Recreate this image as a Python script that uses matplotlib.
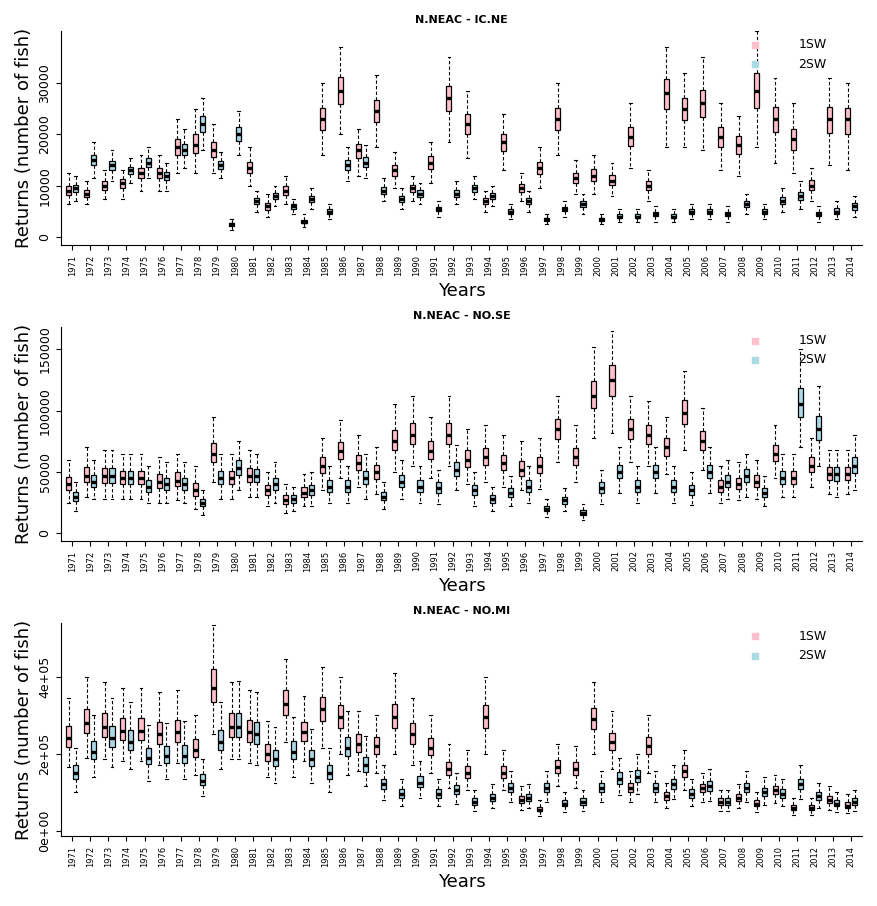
import matplotlib.pyplot as plt
import numpy as np

YEARS = list(range(1971, 2015))

# ---- IC.NE ----
icne_1sw_med = [9000, 8500, 10000, 10500, 12500, 12500, 17500, 18000, 17000, 2500, 13500, 6000, 9000, 3000,
                23000, 28500, 17000, 24500, 13000, 9500, 14500, 27000, 22000, 7000, 18500, 9500, 13500, 23000,
                11500, 12000, 11000, 19500, 10000, 28000, 25000, 26000, 19500, 18000, 28500, 23000, 19000, 10000,
                23000, 23000]
icne_1sw_hi = [12500, 11000, 13000, 13000, 16000, 16000, 23000, 25000, 22000, 3500, 17500, 8500, 12000, 4500,
               30000, 37000, 21000, 31500, 16500, 12000, 18500, 35000, 28500, 9000, 24000, 12500, 17500, 30000,
               15000, 16000, 14500, 26000, 13000, 37000, 32000, 35000, 26000, 23500, 40000, 31000, 26000, 13500,
               31000, 30000]
icne_1sw_lo = [6500, 6500, 7500, 7500, 9000, 9000, 12500, 12500, 12500, 1500, 10000, 4000, 6500, 2000,
               16000, 20000, 12000, 17500, 9500, 7000, 10500, 18500, 15500, 5000, 13000, 7000, 9500, 16000,
               8500, 8500, 8000, 13500, 7000, 17500, 17500, 17000, 13000, 12000, 17500, 14500, 12500, 7000,
               14000, 13000]
icne_2sw_med = [9500, 15000, 14000, 13000, 14500, 12000, 17000, 22000, 14000, 20000, 7000, 8000, 6000, 7500,
                5000, 14000, 14500, 9000, 7500, 8500, 5500, 8500, 9500, 8000, 5000, 7000, 3500, 5500,
                6500, 3500, 4000, 4000, 4500, 4000, 5000, 5000, 4500, 6500, 5000, 7000, 8000, 4500,
                5000, 6000]
icne_2sw_hi = [12000, 18500, 17000, 15500, 17500, 14500, 21000, 27000, 16500, 24500, 9000, 10000, 7500, 9500,
               6500, 17500, 18000, 11500, 9500, 10500, 7000, 11000, 12000, 10000, 6500, 9000, 4500, 7000,
               8500, 4500, 5500, 5500, 6000, 5500, 6500, 6500, 6000, 8500, 6500, 9500, 11000, 6000,
               7000, 8000]
icne_2sw_lo = [7000, 11500, 11000, 10500, 11500, 9000, 13500, 17000, 11500, 16000, 5000, 6000, 4500, 5500,
               3500, 11000, 11500, 7000, 5500, 6500, 4000, 6500, 7500, 6000, 3500, 5000, 2500, 4000,
               4500, 2500, 3000, 3000, 3000, 3000, 3500, 3500, 3000, 4500, 3500, 5000, 5500, 3000,
               3500, 4000]

# ---- NO.SE ----
nose_1sw_med = [40000, 47000, 47000, 45000, 45000, 42000, 43000, 35000, 65000, 45000, 47000, 35000, 27000, 33000,
                55000, 67000, 57000, 50000, 75000, 80000, 67000, 80000, 60000, 62000, 57000, 52000, 55000, 85000,
                62000, 112000, 125000, 85000, 80000, 70000, 98000, 75000, 38000, 40000, 42000, 65000, 45000, 55000,
                48000, 48000]
nose_1sw_hi = [60000, 70000, 68000, 65000, 65000, 62000, 65000, 55000, 95000, 65000, 68000, 50000, 40000, 48000,
               78000, 92000, 80000, 70000, 105000, 112000, 95000, 112000, 85000, 88000, 80000, 75000, 78000, 112000,
               88000, 152000, 165000, 112000, 108000, 95000, 132000, 102000, 55000, 58000, 60000, 88000, 65000, 78000,
               68000, 68000]
nose_1sw_lo = [25000, 30000, 28000, 28000, 28000, 25000, 27000, 20000, 42000, 28000, 30000, 22000, 17000, 22000,
               35000, 45000, 38000, 32000, 50000, 55000, 45000, 55000, 40000, 42000, 38000, 35000, 36000, 58000,
               42000, 78000, 82000, 58000, 55000, 48000, 68000, 52000, 25000, 27000, 28000, 45000, 30000, 38000,
               32000, 32000]
nose_2sw_med = [30000, 42000, 47000, 45000, 38000, 40000, 40000, 25000, 45000, 53000, 47000, 40000, 28000, 35000,
                38000, 38000, 45000, 30000, 42000, 38000, 37000, 52000, 35000, 28000, 33000, 38000, 20000, 27000,
                17000, 37000, 50000, 38000, 50000, 38000, 35000, 50000, 42000, 47000, 33000, 45000, 105000, 85000,
                48000, 55000]
nose_2sw_hi = [42000, 60000, 68000, 65000, 55000, 58000, 58000, 35000, 65000, 75000, 65000, 58000, 38000, 50000,
               55000, 55000, 65000, 42000, 60000, 55000, 52000, 72000, 50000, 38000, 47000, 55000, 28000, 37000,
               24000, 52000, 70000, 55000, 70000, 55000, 50000, 70000, 60000, 65000, 47000, 65000, 150000, 120000,
               68000, 80000]
nose_2sw_lo = [18000, 28000, 28000, 28000, 25000, 25000, 25000, 15000, 28000, 35000, 30000, 25000, 18000, 22000,
               25000, 25000, 28000, 20000, 28000, 25000, 24000, 35000, 22000, 18000, 22000, 25000, 13000, 18000,
               11000, 24000, 33000, 25000, 33000, 25000, 23000, 33000, 28000, 30000, 22000, 30000, 70000, 55000,
               30000, 35000]

# ---- NO.MI ----
nomi_1sw_med = [240000, 280000, 270000, 260000, 260000, 250000, 255000, 210000, 370000, 270000, 255000, 200000,
                330000, 255000, 315000, 295000, 225000, 220000, 295000, 250000, 215000, 160000, 150000, 295000,
                150000, 80000, 55000, 165000, 160000, 290000, 230000, 110000, 220000, 90000, 155000, 110000,
                75000, 85000, 70000, 105000, 60000, 60000, 80000, 65000]
nomi_1sw_hi = [345000, 400000, 385000, 370000, 370000, 360000, 365000, 300000, 535000, 385000, 365000, 285000,
               445000, 350000, 425000, 400000, 310000, 300000, 410000, 345000, 300000, 225000, 210000, 400000,
               210000, 115000, 80000, 225000, 220000, 385000, 310000, 155000, 300000, 125000, 210000, 150000,
               105000, 120000, 100000, 145000, 85000, 85000, 115000, 95000]
nomi_1sw_lo = [165000, 190000, 185000, 180000, 180000, 170000, 175000, 145000, 250000, 185000, 175000, 140000,
               230000, 180000, 215000, 200000, 155000, 150000, 200000, 170000, 150000, 110000, 105000, 200000,
               105000, 55000, 38000, 115000, 110000, 200000, 160000, 75000, 150000, 60000, 105000, 75000,
               50000, 58000, 48000, 72000, 40000, 40000, 55000, 45000]
nomi_2sw_med = [150000, 205000, 240000, 230000, 190000, 195000, 195000, 130000, 230000, 270000, 250000, 185000,
                205000, 185000, 150000, 215000, 170000, 120000, 95000, 125000, 95000, 105000, 75000, 85000,
                110000, 85000, 110000, 70000, 75000, 110000, 135000, 140000, 110000, 120000, 95000, 115000,
                75000, 110000, 100000, 95000, 120000, 90000, 70000, 75000]
nomi_2sw_hi = [215000, 300000, 345000, 335000, 275000, 280000, 285000, 185000, 335000, 390000, 360000, 270000,
               295000, 265000, 215000, 310000, 245000, 170000, 135000, 180000, 135000, 150000, 105000, 120000,
               155000, 120000, 155000, 100000, 105000, 155000, 190000, 200000, 155000, 170000, 135000, 160000,
               105000, 155000, 140000, 135000, 170000, 125000, 100000, 105000]
nomi_2sw_lo = [100000, 140000, 165000, 160000, 130000, 135000, 135000, 90000, 160000, 185000, 170000, 125000,
               140000, 125000, 100000, 145000, 115000, 80000, 65000, 85000, 65000, 70000, 50000, 58000,
               75000, 58000, 75000, 48000, 50000, 75000, 92000, 95000, 75000, 82000, 65000, 78000,
               50000, 75000, 68000, 65000, 82000, 60000, 48000, 50000]

PANELS = [
    ("N.NEAC - IC.NE", icne_1sw_med, icne_1sw_lo, icne_1sw_hi, icne_2sw_med, icne_2sw_lo, icne_2sw_hi,
     [0, 10000, 20000, 30000], ["0", "10000", "20000", "30000"], (-1500, 40000)),
    ("N.NEAC - NO.SE", nose_1sw_med, nose_1sw_lo, nose_1sw_hi, nose_2sw_med, nose_2sw_lo, nose_2sw_hi,
     [0, 50000, 100000, 150000], ["0", "50000", "100000", "150000"], (-6000, 168000)),
    ("N.NEAC - NO.MI", nomi_1sw_med, nomi_1sw_lo, nomi_1sw_hi, nomi_2sw_med, nomi_2sw_lo, nomi_2sw_hi,
     [0, 200000, 400000], ["0e+00", "2e+05", "4e+05"], (-15000, 540000)),
]


def make_stats(med, lo, hi):
    stats = []
    for m, l, h in zip(med, lo, hi):
        stats.append({"med": m, "q1": m - 0.3 * (m - l), "q3": m + 0.3 * (h - m),
                      "whislo": l, "whishi": h, "fliers": []})
    return stats


def draw_boxes(ax, stats, positions, color):
    ax.bxp(stats, positions=positions, widths=0.28, patch_artist=True, showfliers=False,
           boxprops=dict(facecolor=color, edgecolor="black", linewidth=0.9),
           medianprops=dict(color="black", linewidth=2.4),
           whiskerprops=dict(color="black", linestyle=(0, (3, 2)), linewidth=0.8),
           capprops=dict(color="black", linewidth=0.8), capwidths=0.16, manage_ticks=False)


fig, axes = plt.subplots(3, 1, figsize=(8.77, 9.06))
x = np.arange(len(YEARS))
for ax, (title, m1, l1, h1, m2, l2, h2, yt, ytl, ylim) in zip(axes, PANELS):
    draw_boxes(ax, make_stats(m1, l1, h1), x - 0.2, "pink")
    draw_boxes(ax, make_stats(m2, l2, h2), x + 0.2, "lightblue")
    ax.set_xlim(-0.6, len(YEARS) - 0.4)
    ax.set_ylim(*ylim)
    ax.set_xticks(x)
    ax.set_xticklabels([str(y) for y in YEARS], rotation=90, fontsize=6)
    ax.set_yticks(yt)
    ax.set_yticklabels(ytl, rotation=90, va="center", fontsize=9)
    ax.set_title(title, fontsize=8, fontweight="bold")
    ax.set_xlabel("Years", fontsize=13)
    ax.set_ylabel("Returns (number of fish)", fontsize=13)
    ax.spines["top"].set_visible(False)
    ax.spines["right"].set_visible(False)
    ax.scatter([], [], marker="s", color="pink", s=20, label="1SW")
    ax.scatter([], [], marker="s", color="lightblue", s=20, label="2SW")
    ax.legend(loc="upper right", frameon=False, fontsize=9, handletextpad=2.5,
              bbox_to_anchor=(0.97, 1.02))

plt.tight_layout(h_pad=0.8)
plt.savefig("out.png", dpi=100)
